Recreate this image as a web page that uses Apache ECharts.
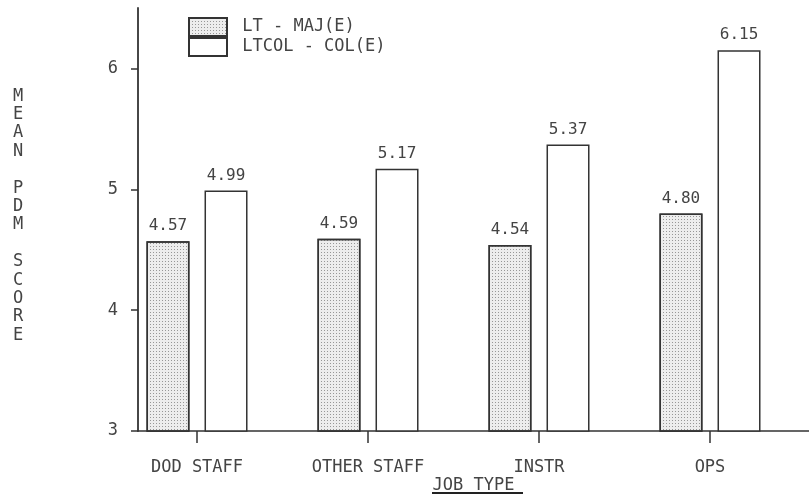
<!DOCTYPE html>
<html>
<head>
<meta charset="utf-8">
<script src="https://cdn.jsdelivr.net/npm/echarts@6/dist/echarts.min.js"></script>
<style>html,body{margin:0;padding:0;background:#fff;}#c{width:809px;height:495px;}</style>
</head>
<body>
<div id="c"></div>
<script>
const categories = ['DOD STAFF', 'OTHER STAFF', 'INSTR', 'OPS'];
const positions = [1, 2, 3, 4];
const seriesNames = ['LT - MAJ(E)', 'LTCOL - COL(E)'];
const ltMaj = [4.57, 4.59, 4.54, 4.80];
const ltcolCol = [4.99, 5.17, 5.37, 6.15];
const yTicks = [3, 4, 5, 6];

const FONT = '"DejaVu Sans Mono", monospace';
const INK = '#333';
const TXT = '#444';

const chart = echarts.init(document.getElementById('c'), null, {renderer: 'canvas'});
const toPairs = arr => arr.map((v, i) => [positions[i], v]);
const valLabel = {
  show: true, position: 'top', distance: 7,
  fontFamily: FONT, fontSize: 16, color: TXT,
  formatter: p => p.value[1].toFixed(2)
};

chart.setOption({
  animation: false,
  backgroundColor: '#fff',
  title: {
    text: 'M\nE\nA\nN\n\nP\nD\nM\n\nS\nC\nO\nR\nE',
    left: 8, top: 82,
    textStyle: {fontFamily: FONT, fontSize: 17, fontWeight: 'normal', color: TXT, lineHeight: 18.4}
  },
  legend: {
    orient: 'vertical', left: 183, top: 12,
    itemWidth: 38, itemHeight: 18, itemGap: 0,
    icon: 'rect',
    formatter: n => ' ' + n,
    textStyle: {fontFamily: FONT, fontSize: 17, color: TXT},
    data: seriesNames
  },
  graphic: [{
    type: 'line', silent: true,
    shape: {x1: 432, y1: 493, x2: 523, y2: 493},
    style: {stroke: '#222', lineWidth: 2}
  }],
  grid: {left: 138, right: 0, top: 8, bottom: 64, outerBoundsMode: 'none', containLabel: false},
  xAxis: {
    type: 'value', min: 0.655, max: 4.579,
    axisLine: {lineStyle: {color: INK, width: 1.5}},
    splitLine: {show: false},
    axisTick: {customValues: positions, length: 12, lineStyle: {color: INK, width: 1.5}},
    axisLabel: {
      customValues: positions, margin: 28,
      fontFamily: FONT, fontSize: 17, color: TXT,
      formatter: v => categories[Math.round(v) - 1] || ''
    },
    name: 'JOB TYPE',
    nameLocation: 'middle', nameGap: 46, nameMoveOverlap: false,
    nameTextStyle: {fontFamily: FONT, fontSize: 17, color: TXT}
  },
  yAxis: {
    type: 'value', min: 3, max: 6.5,
    axisLine: {show: true, lineStyle: {color: INK, width: 1.8}},
    splitLine: {show: false},
    axisTick: {show: true, customValues: yTicks, length: 7, lineStyle: {color: INK, width: 1.5}},
    axisLabel: {customValues: yTicks, margin: 20, fontFamily: FONT, fontSize: 17, color: TXT}
  },
  series: [
    {
      name: seriesNames[0], type: 'bar', barWidth: 43, barGap: '35%',
      data: toPairs(ltMaj),
      itemStyle: {
        color: '#ededed', borderColor: INK, borderWidth: 1.5,
        decal: {symbol: 'rect', symbolSize: 1, color: 'rgba(80,80,80,0.55)', dashArrayX: [1, 2], dashArrayY: [1, 2], rotation: 0}
      },
      label: valLabel
    },
    {
      name: seriesNames[1], type: 'bar', barWidth: 43, barGap: '35%',
      data: toPairs(ltcolCol),
      itemStyle: {color: '#fff', borderColor: INK, borderWidth: 1.5},
      label: valLabel
    }
  ]
});
</script>
</body>
</html>
